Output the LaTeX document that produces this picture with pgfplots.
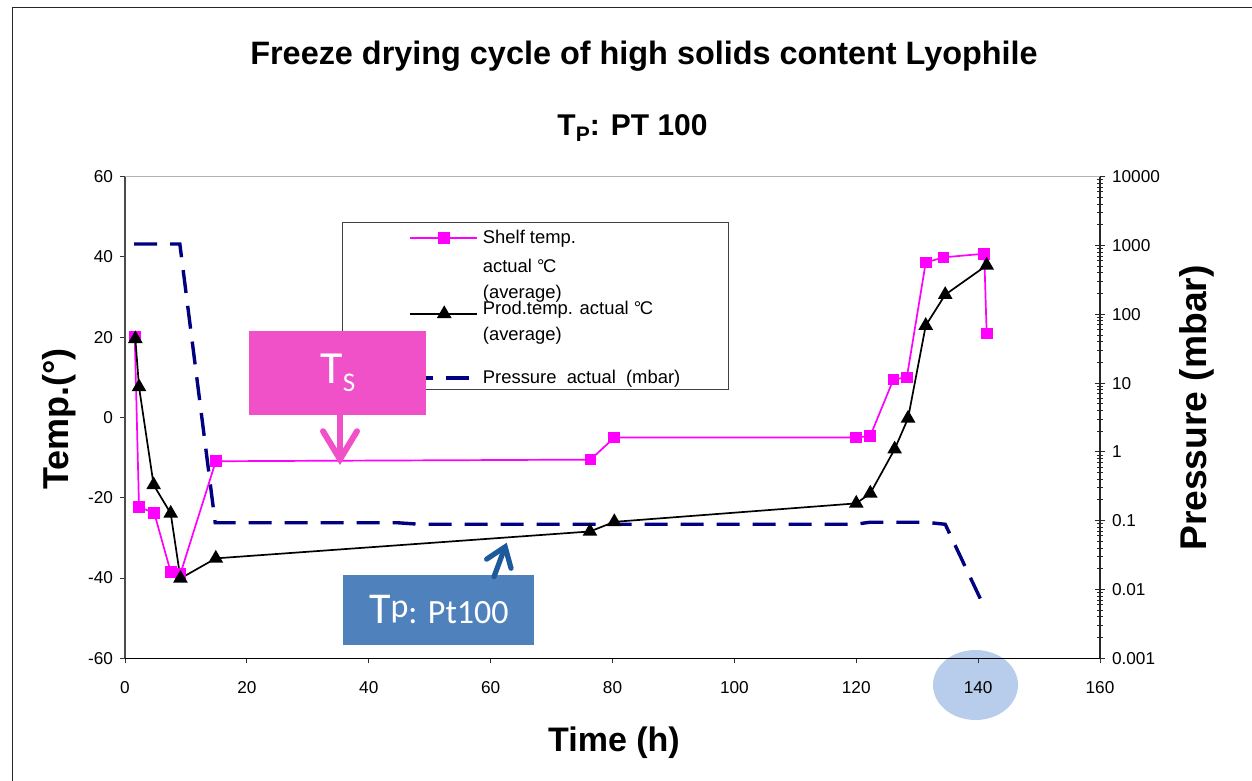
\documentclass[border=0pt]{standalone}
\usepackage{pgfplots}
\pgfplotsset{compat=1.18}
\usepackage{fontspec}
\setmainfont{Liberation Sans}
\newfontfamily\calib{Carlito}
\usetikzlibrary{arrows.meta}
\definecolor{shelf}{RGB}{255,0,255}
\definecolor{press}{RGB}{0,0,128}
\definecolor{tsbox}{RGB}{240,80,200}
\definecolor{tpbox}{RGB}{79,129,189}
\definecolor{tparrow}{RGB}{28,90,155}
\definecolor{ellip}{RGB}{160,188,228}
\newcommand{\degC}{°\kern-0.08em C}
\newcommand{\lrow}[3]{\raisebox{#1}[#2][0pt]{#3}}
\pgfplotsset{
  shelfleg/.style={legend image code/.code={\path (0pt,0pt) (66.5pt,0pt); \draw[overlay, mark repeat=2, mark phase=2, ##1, yshift=2.5pt] plot coordinates {(33pt,0pt) (50pt,0pt) (66.5pt,0pt)};}},
  prodleg/.style={legend image code/.code={\path (0pt,0pt) (66.5pt,0pt); \draw[overlay, mark repeat=2, mark phase=2, ##1, yshift=6.22pt] plot coordinates {(33pt,0pt) (50pt,0pt) (66.5pt,0pt)};}},
  pressleg/.style={legend image code/.code={\path (0pt,0pt) (66.5pt,0pt); \draw[overlay, ##1, yshift=2.02pt] (33pt,0pt) -- (66.5pt,0pt);}},
}

\begin{document}
\begin{tikzpicture}[x=1pt,y=1pt]
% highlight ellipse behind the 140 tick label
\fill[ellip, opacity=0.75] (487.75pt,48pt) ellipse [x radius=21.25pt, y radius=17.5pt];
% ---------------- pressure axis (right, log) ----------------
\begin{axis}[
  at={(62.5pt,61.35pt)}, anchor=south west, scale only axis,
  width=487.5pt, height=240.8pt,
  xmin=0, xmax=160, ymode=log, ymin=1e-3, ymax=1e4,
  axis x line=none, axis y line*=right,
  y axis line style={black!85, line width=0.7pt, -},
  ytick={1e-3,1e-2,1e-1,1,10,100,1000,10000},
  yticklabels={0.001,0.01,0.1,1,10,100,1000,10000},
  tick align=center, major tick length=5pt, minor tick length=2.7pt,
  every tick/.style={black!85, line width=0.5pt},
  yticklabel style={font=\fontsize{8.6}{10}\selectfont, anchor=west},
]
\addplot[press, line width=1.7pt, dash pattern=on 11.5pt off 6.5pt] coordinates {
(1.5,1050)(9.0,1050)(14.8,0.0935)(44.6,0.0935)(48.4,0.0887)(119.8,0.0887)
(122.2,0.0948)(131.5,0.0948)(134.6,0.0887)(141.1,0.00533)};
\end{axis}
% ---------------- temperature axis (left) ----------------
\begin{axis}[
  at={(62.5pt,61.35pt)}, anchor=south west, scale only axis,
  width=487.5pt, height=240.8pt,
  xmin=0, xmax=160, ymin=-60, ymax=60,
  axis x line*=bottom, axis y line*=left,
  x axis line style={black, line width=0.7pt, -},
  y axis line style={black!70, line width=0.7pt, -},
  xtick={0,20,...,160}, xticklabels={0,20,40,60,80,100,120,140,160},
  ytick={-60,-40,...,60}, yticklabels={-60,-40,-20,0,20,40,60},
  tick align=outside, major tick length=2.5pt, minor tick num=0,
  every tick/.style={black!80, line width=0.5pt},
  tick label style={font=\fontsize{8.6}{10}\selectfont},
  xticklabel style={yshift=-5.5pt},
  legend style={at={(0.2226,0.9053)}, anchor=north west, draw=black!75,
    line width=0.5pt, inner xsep=0pt, inner ysep=0.3pt, row sep=0pt,
    column sep=0pt, font=\fontsize{9.2}{11}\selectfont,
    cells={anchor=base west}},
]
\draw[black!30, line width=0.7pt] (rel axis cs:0,1) -- (rel axis cs:1,1);
\addplot[shelf, line width=0.85pt, mark=square*, mark size=2.5pt,
  mark options={solid, fill=shelf}, shelfleg]
coordinates {
(1.6,20.2)(2.3,-22.3)(4.8,-23.8)(7.5,-38.5)(9.1,-38.9)(14.9,-10.9)
(76.4,-10.5)(80.3,-5.0)(120.0,-5.0)(122.3,-4.6)(126.1,9.5)(128.3,10.0)
(131.4,38.6)(134.3,39.9)(141.0,40.8)(141.4,20.9)};
\addlegendentry{\lrow{-0.5pt}{7.63pt}{Shelf temp.}}
\addlegendimage{empty legend}
\addlegendentry{\lrow{-1.126pt}{8.434pt}{actual \degC}}
\addlegendimage{empty legend}
\addlegendentry{\lrow{-0.2pt}{8.434pt}{(average)}}
\addplot[black, line width=0.85pt, mark=triangle*, mark size=3.4pt,
  mark options={solid, fill=black}, prodleg]
coordinates {
(1.7,19.6)(2.3,7.6)(4.7,-16.8)(7.5,-23.9)(9.1,-40.1)(14.9,-35.1)
(76.3,-28.4)(80.3,-26.0)(120.0,-21.4)(122.3,-18.9)(126.3,-7.9)(128.5,-0.2)
(131.4,22.9)(134.6,30.6)(141.4,37.9)};
\addlegendentry{\lrow{5.72pt}{8.434pt}{Prod.temp. actual \degC}}
\addlegendimage{empty legend}
\addlegendentry{\lrow{6.8pt}{8.434pt}{(average)}}
\addlegendimage{press, line width=1.7pt, dash pattern=on 11.5pt off 6.5pt, pressleg}
\addlegendentry{\makebox[120.9pt][l]{\lrow{-0.98pt}{8.434pt}{Pressure\ \ actual\ \ (mbar)}}}
\end{axis}
% ---------------- annotations ----------------
\node[fill=tsbox, minimum width=88.35pt, minimum height=42.35pt, inner sep=0pt, text=white, anchor=south west]
  at (124.5pt,182.65pt) {\calib\fontsize{23}{23}\selectfont T\raisebox{-4.2pt}{\fontsize{13.5}{13.5}\selectfont S}};
\draw[tsbox, line width=3pt, line cap=round, -{Straight Barb[length=14pt, width=17pt, line cap=round]}]
  (170pt,182.65pt) -- (170pt,158pt);
\node[fill=tpbox, minimum width=95.5pt, minimum height=34.65pt, inner sep=0pt, text=white, anchor=south west]
  at (171.5pt,68pt) {\calib{\fontsize{22}{22}\selectfont T}{\fontsize{17}{17}\selectfont\raisebox{0.2em}{p}: Pt100}};
\draw[tparrow, line width=2.6pt, line cap=round, -{Straight Barb[length=9pt, width=13pt, line cap=round]}]
  (247pt,102.15pt) -- (253.35pt,119.15pt);
% ---------------- titles ----------------
\node[anchor=base] at (322pt,358pt) {\fontsize{16.2}{19}\selectfont\bfseries Freeze drying cycle of high solids content Lyophile};
\node[anchor=base] at (316.25pt,322.5pt) {\fontsize{15}{18}\selectfont\bfseries T\raisebox{-3pt}{\fontsize{10.5}{11}\selectfont P}: PT 100};
\node[anchor=base] at (307pt,14.5pt) {\fontsize{17}{20}\selectfont\bfseries Time (h)};
\node[anchor=base, rotate=90] at (34pt,181pt) {\fontsize{18}{20}\selectfont\bfseries Temp.(°)};
\node[anchor=base, rotate=90] at (603.3pt,186.5pt) {\fontsize{18.6}{20}\selectfont\bfseries Pressure (mbar)};
% ---------------- frame ----------------
\draw[black!85, line width=0.65pt] (6.35pt,-5pt) -- (6.35pt,386.75pt) -- (640pt,386.75pt);
\pgfresetboundingbox
\useasboundingbox (0pt,0pt) rectangle (626pt,390.5pt);
\end{tikzpicture}
\end{document}
